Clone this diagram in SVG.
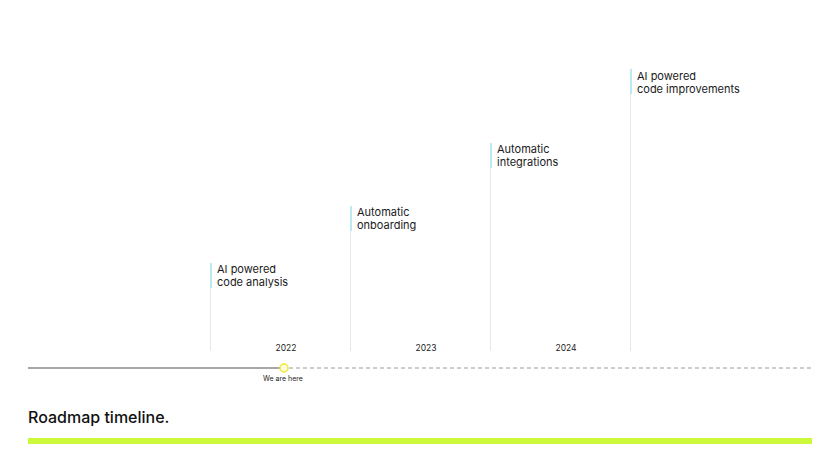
<svg xmlns="http://www.w3.org/2000/svg" width="840" height="473" viewBox="0 0 840 473">
<style>
.vl{stroke:#e6e6e6;stroke-width:1}
.acc{fill:#bde9f0}
.lbl{font-family:Inter,"Liberation Sans",sans-serif;font-size:11px;fill:#1a1a1a}
.yr{font-family:Inter,"Liberation Sans",sans-serif;font-size:8.5px;fill:#222;text-anchor:middle}
</style>
<rect width="840" height="473" fill="#ffffff"/>
<g id="m2022">
<line class="vl" x1="210.5" y1="263" x2="210.5" y2="351"/>
<rect class="acc" x="210" y="263" width="2" height="25"/>
<text class="lbl" x="217" y="273">AI powered</text>
<text class="lbl" x="217" y="286">code analysis</text>
<text class="yr" x="286" y="351">2022</text>
</g>
<g id="m2023">
<line class="vl" x1="350.5" y1="206" x2="350.5" y2="351"/>
<rect class="acc" x="350" y="206" width="2" height="25"/>
<text class="lbl" x="357" y="216">Automatic</text>
<text class="lbl" x="357" y="229">onboarding</text>
<text class="yr" x="426" y="351">2023</text>
</g>
<g id="m2024">
<line class="vl" x1="490.5" y1="143" x2="490.5" y2="351"/>
<rect class="acc" x="490" y="143" width="2" height="25"/>
<text class="lbl" x="497" y="153">Automatic</text>
<text class="lbl" x="497" y="166">integrations</text>
<text class="yr" x="566" y="351">2024</text>
</g>
<g id="m2025">
<line class="vl" x1="630.5" y1="69" x2="630.5" y2="351"/>
<rect class="acc" x="630" y="69" width="2" height="25"/>
<text class="lbl" x="637" y="80">AI powered</text>
<text class="lbl" x="637" y="93">code improvements</text>
</g>
<g id="connectors">
<line x1="28" y1="368" x2="280" y2="368" stroke="#8a8a8a" stroke-width="1.5"/>
<line x1="289" y1="368" x2="812" y2="368" stroke="#9a9a9a" stroke-width="1" stroke-dasharray="4,3"/>
</g>
<g id="here">
<circle cx="284" cy="368" r="4" fill="#fffbe0" stroke="#f0e830" stroke-width="1.5"/>
<text x="283" y="381" font-family="Inter,'Liberation Sans',sans-serif" font-size="7px" fill="#222" text-anchor="middle">We are here</text>
</g>
<g id="title">
<text x="28" y="423" font-family="Inter,'Liberation Sans',sans-serif" font-size="16px" font-weight="500" fill="#111">Roadmap timeline.</text>
<rect x="28" y="438" width="784" height="6" fill="#ccfa3a"/>
</g>
</svg>
